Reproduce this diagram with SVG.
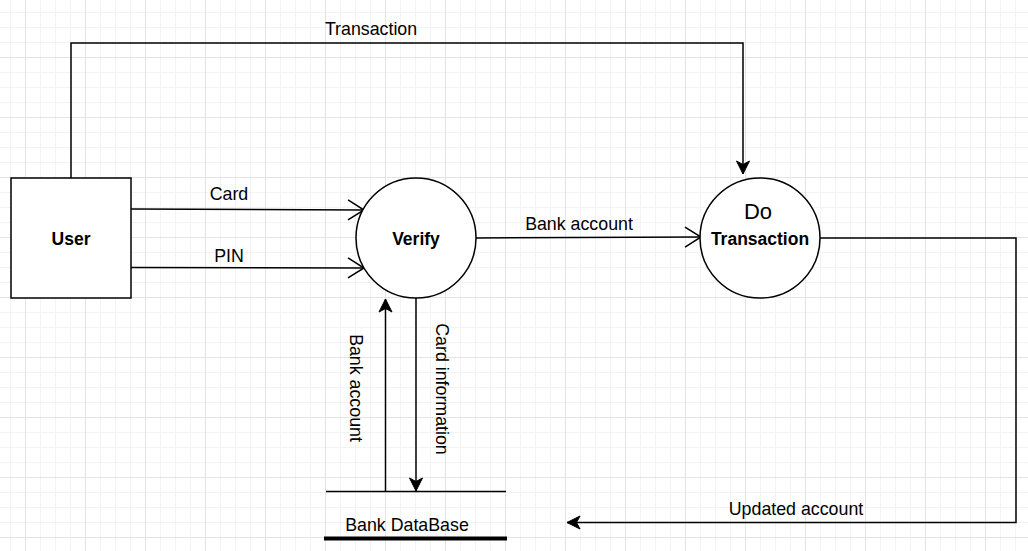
<svg xmlns="http://www.w3.org/2000/svg" width="1028" height="551" viewBox="0 0 1028 551">
<style>
.t{font-family:"Liberation Sans",Arial,sans-serif;font-size:17.8px;fill:#000}
.b{font-family:"Liberation Sans",Arial,sans-serif;font-size:17.5px;font-weight:bold;fill:#000}
.ln{fill:none;stroke:#000;stroke-width:1.5}
.shape{fill:#fff;stroke:#000;stroke-width:1.5}
</style>
<defs>
<pattern id="minor" patternUnits="userSpaceOnUse" x="10" y="12" width="15" height="15">
<rect x="0" y="0" width="1" height="15" fill="#f3f3f3"/>
<rect x="0" y="0" width="15" height="1" fill="#f3f3f3"/>
</pattern>
<pattern id="major" patternUnits="userSpaceOnUse" x="25" y="-3" width="60" height="60">
<rect x="0" y="0" width="1" height="60" fill="#e4e4e4"/>
<rect x="0" y="0" width="60" height="1" fill="#e4e4e4"/>
</pattern>
<marker id="classic" markerUnits="userSpaceOnUse" viewBox="-15 -8 16 16" refX="0" refY="0" markerWidth="16" markerHeight="16" orient="auto">
<path d="M0,0 L-13,-6.5 L-9.5,0 L-13,6.5 Z" fill="#000" stroke="#000" stroke-width="1"/>
</marker>
<marker id="open" markerUnits="userSpaceOnUse" viewBox="-18 -12 20 24" refX="0" refY="0" markerWidth="20" markerHeight="24" orient="auto">
<path d="M-16,-10 L0,0 L-16,10" fill="none" stroke="#000" stroke-width="1.5"/>
</marker>
</defs>
<rect x="0" y="0" width="1028" height="551" fill="#fff"/>
<rect x="0" y="0" width="1028" height="551" fill="url(#minor)"/>
<rect x="0" y="0" width="1028" height="551" fill="url(#major)"/>

<g id="connectors">
<polyline class="ln" points="71,178 71,43 743,43 743,174" marker-end="url(#classic)"/>
<text class="t" x="371" y="35" text-anchor="middle">Transaction</text>
<line class="ln" x1="131" y1="209" x2="364" y2="210" marker-end="url(#open)"/>
<text class="t" x="229" y="200" text-anchor="middle">Card</text>
<line class="ln" x1="131" y1="267.5" x2="364" y2="268" marker-end="url(#open)"/>
<text class="t" x="229" y="262" text-anchor="middle">PIN</text>
<line class="ln" x1="476" y1="238" x2="701" y2="237" marker-end="url(#open)"/>
<text class="t" x="579" y="230" text-anchor="middle">Bank account</text>
<polyline class="ln" points="820,238 1016,238 1016,522.5 567,522.5" marker-end="url(#classic)"/>
<text class="t" x="796" y="515" text-anchor="middle">Updated account</text>
<line class="ln" x1="385.5" y1="491.5" x2="385.5" y2="299" marker-end="url(#classic)"/>
<text class="t" transform="translate(350,388) rotate(90)" text-anchor="middle">Bank account</text>
<line class="ln" x1="416" y1="298" x2="416" y2="491" marker-end="url(#classic)"/>
<text class="t" transform="translate(436,389) rotate(90)" text-anchor="middle">Card information</text>
</g>

<g id="user">
<rect class="shape" x="11" y="178" width="120" height="120"/>
<text class="b" x="71" y="245" text-anchor="middle">User</text>
</g>

<g id="verify">
<circle class="shape" cx="416" cy="238" r="60"/>
<text class="b" x="416" y="245" text-anchor="middle">Verify</text>
</g>

<g id="do-transaction">
<circle class="shape" cx="760" cy="238" r="60"/>
<text class="t" x="758" y="219" text-anchor="middle" style="font-size:22px">Do</text>
<text class="b" x="760" y="245" text-anchor="middle">Transaction</text>
</g>

<g id="bank-database">
<line x1="326" y1="491.5" x2="506" y2="491.5" stroke="#000" stroke-width="1.5"/>
<line x1="324" y1="538.5" x2="507" y2="538.5" stroke="#000" stroke-width="4"/>
<text class="t" x="407" y="531" text-anchor="middle">Bank DataBase</text>
</g>
</svg>
